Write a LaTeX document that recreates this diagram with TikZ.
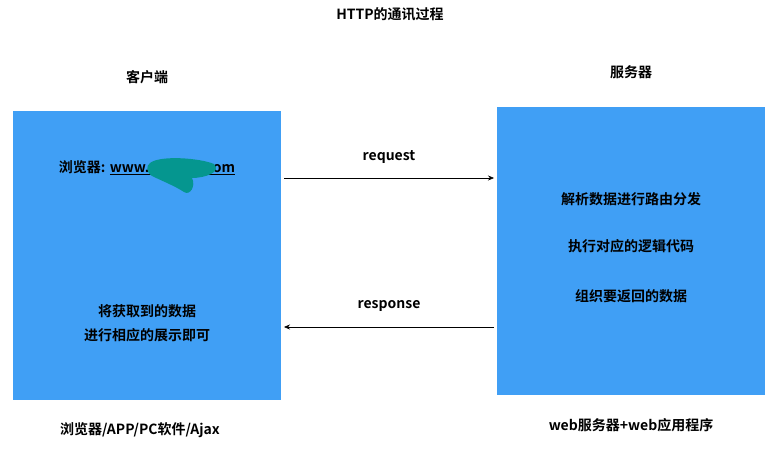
\documentclass[tikz,border=0pt]{standalone}
\usepackage{fontspec}
\setmainfont{Noto Sans CJK SC}[BoldFont={Noto Sans CJK SC Bold}]
\usetikzlibrary{arrows.meta}
\definecolor{boxblue}{HTML}{409FF5}
\definecolor{blot}{HTML}{05968F}
\tikzset{
  panel/.style={fill=boxblue,draw=none},
  lbl/.style={font=\fontsize{14}{17}\selectfont\bfseries,inner sep=0pt,align=center},
  conn/.style={-{Stealth[length=6pt,width=5pt]},line width=0.6pt}
}
\begin{document}
\begin{tikzpicture}[x=1pt,y=-1pt]
\useasboundingbox (0,0) rectangle (777,452);
\node[lbl] (title) at (390,14) {HTTP的通讯过程};
\node[lbl] (client) at (147,77) {客户端};
\node[lbl] (server) at (631,72) {服务器};
\fill[panel] (13,111) rectangle (281,400);
\fill[panel] (497,107) rectangle (765,395);
\coordinate (lb) at (281,178);
\coordinate (rb) at (497,178);
\node[lbl] (browser) at (147,168) {浏览器: \underline{www.\hspace{52pt}.com}};
\fill[blot] (150,163) .. controls (160,155) and (200,158) .. (214,164) .. controls (222,172) and (205,178) .. (192,178) .. controls (196,186) and (190,196) .. (184,192) .. controls (175,186) and (160,180) .. (152,176) .. controls (146,172) and (146,166) .. (150,163) -- cycle;
\node[lbl] (res1) at (147,311) {将获取到的数据};
\node[lbl] (res2) at (147,335) {进行相应的展示即可};
\node[lbl] (s1) at (631,199) {解析数据进行路由分发};
\node[lbl] (s2) at (631,246) {执行对应的逻辑代码};
\node[lbl] (s3) at (631,296) {组织要返回的数据};
\draw[conn] (284,178) -- node[lbl,above=14pt] (req) {request} (494,178);
\draw[conn] (494,327) -- node[lbl,above=15pt] (resp) {response} (284,327);
\node[lbl] (bl) at (140,430) {浏览器/APP/PC软件/Ajax};
\node[lbl] (br) at (631,425) {web服务器+web应用程序};
\end{tikzpicture}
\end{document}
